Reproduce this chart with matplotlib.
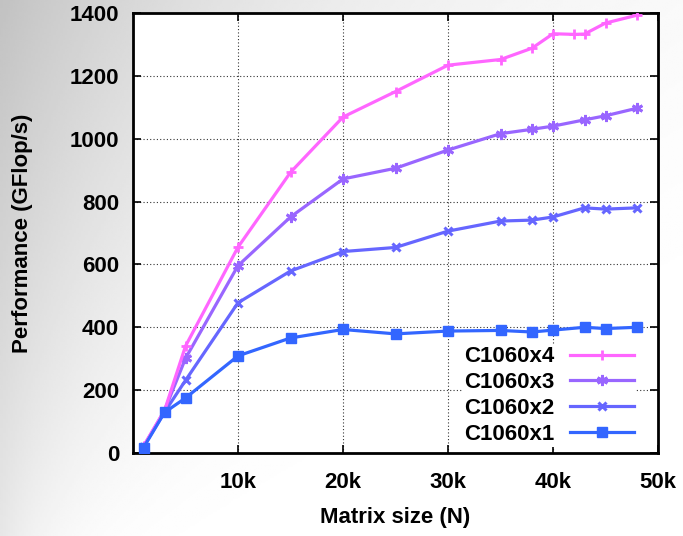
import numpy as np
import matplotlib.pyplot as plt

# Matrix sizes (N) and measured performance in GFlop/s
sizes = [1000, 3000, 5000, 10000, 15000, 20000, 25000, 30000,
         35000, 38000, 40000, 43000, 45000, 48000]
sizes_x4 = [1000, 3000, 5000, 10000, 15000, 20000, 25000, 30000,
            35000, 38000, 40000, 42000, 43000, 45000, 48000]

perf_x4 = [22, 135, 340, 655, 893, 1069, 1150, 1234, 1252, 1288, 1334, 1332, 1333, 1368, 1393]
perf_x3 = [20, 135, 301, 596, 751, 872, 906, 964, 1016, 1030, 1040, 1060, 1073, 1097]
perf_x2 = [20, 130, 231, 478, 579, 641, 654, 706, 738, 741, 751, 780, 776, 780]
perf_x1 = [17, 129, 175, 309, 366, 393, 379, 388, 390, 385, 391, 400, 396, 400]

x_ticks = [10000, 20000, 30000, 40000, 50000]
x_tick_labels = ['10k', '20k', '30k', '40k', '50k']
y_ticks = [0, 200, 400, 600, 800, 1000, 1200, 1400]

plt.rcParams['font.family'] = ['Liberation Sans', 'DejaVu Sans']
plt.rcParams['font.weight'] = 'bold'

fig = plt.figure(figsize=(6.83, 5.36), dpi=100)

# soft grey gradient behind everything, darkest at the top-left corner
bg = fig.add_axes([0, 0, 1, 1], zorder=-10)
u, v = np.meshgrid(np.linspace(0, 1, 300), np.linspace(0, 1, 300))
spread = 0.35 * (1 - v) + 0.08
shade = 1 - 0.24 * (1 - 0.6 * v) * np.exp(-u / spread)
bg.imshow(shade, cmap='gray', vmin=0, vmax=1, aspect='auto', extent=[0, 1, 0, 1])
bg.axis('off')

ax = fig.add_axes([133 / 683, 1 - 453 / 536, 525 / 683, 440 / 536])
ax.set_facecolor('white')

ax.plot(sizes_x4, perf_x4, color='#ff66ff', lw=2.3, marker='+', ms=7, mew=2,
        label='C1060x4', zorder=5)
ax.plot(sizes, perf_x3, color='#9966ff', lw=2.3, marker=(6, 2, 0), ms=8, mew=2,
        label='C1060x3', zorder=4)
ax.plot(sizes, perf_x2, color='#6666ff', lw=2.3, marker='x', ms=6, mew=2.2,
        label='C1060x2', zorder=3)
ax.plot(sizes, perf_x1, color='#3366ff', lw=2.3, marker='s', ms=7,
        label='C1060x1', zorder=6)

ax.set_xlim(0, 50000)
ax.set_ylim(0, 1400)
ax.set_xticks(x_ticks)
ax.set_xticklabels(x_tick_labels)
ax.set_yticks(y_ticks)
ax.tick_params(direction='in', length=6, width=1.2, labelsize=16, pad=10,
               top=True, right=True)
ax.tick_params(axis='x', pad=14)
for lbl in ax.get_xticklabels() + ax.get_yticklabels():
    lbl.set_fontweight('bold')

ax.grid(True, color='black', linestyle=(0, (1, 2)), linewidth=0.8, alpha=0.8)
for s in ax.spines.values():
    s.set_linewidth(2)

ax.set_xlabel('Matrix size (N)', fontsize=16, fontweight='bold', labelpad=10)
ax.set_ylabel('Performance (GFlop/s)', fontsize=16, fontweight='bold', labelpad=26)

leg = ax.legend(loc='lower right', bbox_to_anchor=(0.98, -0.012), markerfirst=False,
                frameon=True, fancybox=False, edgecolor='none', framealpha=1,
                prop={'size': 16, 'weight': 'bold'}, handlelength=2.9,
                handletextpad=0.7, labelspacing=0.22, borderpad=0.1)
leg.set_zorder(10)

fig.savefig('out.png', dpi=100)
